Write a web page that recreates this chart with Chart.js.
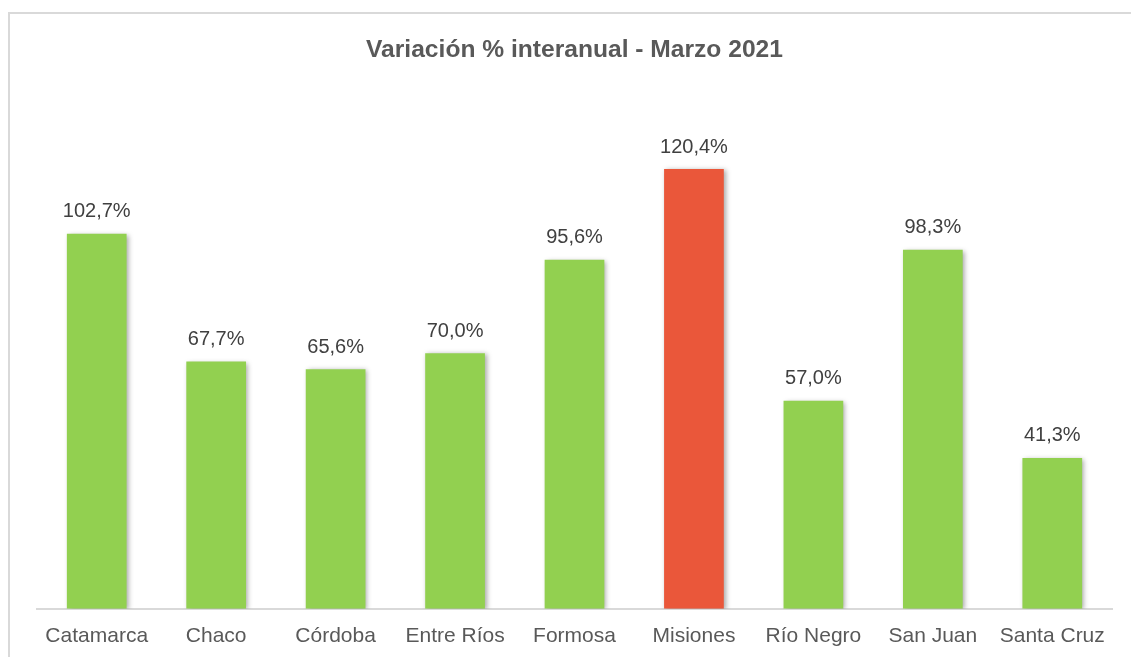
<!DOCTYPE html>
<html>
<head>
<meta charset="utf-8">
<script src="https://cdn.jsdelivr.net/npm/chart.js@4"></script>
<style>
  html, body { margin: 0; padding: 0; background: #fff; }
  body { width: 1131px; height: 657px; position: relative; overflow: hidden; }
  .frame { position: absolute; left: 8px; top: 12px; width: 1140px; height: 660px; border: 2px solid #d9d9d9; box-sizing: border-box; }
  .wrap { position: absolute; left: 0; top: 0; width: 1136px; height: 665px; }
</style>
</head>
<body>
<div class="frame"></div>
<div class="wrap"><canvas id="grafico"></canvas></div>
<script>
const provincias = ['Catamarca', 'Chaco', 'Córdoba', 'Entre Ríos', 'Formosa', 'Misiones', 'Río Negro', 'San Juan', 'Santa Cruz'];
const variacion = [102.7, 67.7, 65.6, 70.0, 95.6, 120.4, 57.0, 98.3, 41.3];
const destacada = 'Misiones';

const verde = '#92D050';
const rojo = '#EA573A';
const colores = provincias.map(p => p === destacada ? rojo : verde);
const fuente = '"Liberation Sans", Arial, sans-serif';

// sombra suave de las barras, como en Excel
const sombra = {
    id: 'sombra',
    beforeDatasetsDraw(chart) {
        const ctx = chart.ctx;
        ctx.save();
        ctx.shadowColor = 'rgba(0,0,0,0.35)';
        ctx.shadowBlur = 5;
        ctx.shadowOffsetX = 2;
        ctx.shadowOffsetY = 1;
    },
    afterDatasetsDraw(chart) {
        chart.ctx.restore();
    }
};

// etiquetas con el valor sobre cada barra
const etiquetas = {
    id: 'etiquetas',
    afterDatasetsDraw(chart) {
        const ctx = chart.ctx;
        const meta = chart.getDatasetMeta(0);
        ctx.save();
        ctx.font = '20px ' + fuente;
        ctx.fillStyle = '#404040';
        ctx.textAlign = 'center';
        ctx.textBaseline = 'bottom';
        meta.data.forEach((bar, i) => {
            const txt = variacion[i].toFixed(1).replace('.', ',') + '%';
            ctx.fillText(txt, bar.x, bar.y - 12);
        });
        ctx.restore();
    }
};

const ctx = document.getElementById('grafico').getContext('2d');
const myChart = new Chart(ctx, {
    type: 'bar',
    data: {
        labels: provincias,
        datasets: [{
            data: variacion,
            backgroundColor: colores,
            borderWidth: 0,
            barPercentage: 0.5,
            categoryPercentage: 1.0
        }]
    },
    options: {
        responsive: true,
        maintainAspectRatio: false,
        animation: false,
        layout: { padding: { left: 37, right: 24, top: 0, bottom: 9 } },
        plugins: {
            legend: { display: false },
            tooltip: { enabled: false },
            title: {
                display: true,
                text: 'Variación % interanual - Marzo 2021',
                color: '#595959',
                font: { family: fuente, size: 24.6, weight: 'bold' },
                padding: { top: 35, bottom: 33 }
            }
        },
        scales: {
            x: {
                grid: { display: false },
                border: { display: true, color: '#d9d9d9', width: 2 },
                ticks: {
                    color: '#595959',
                    font: { family: fuente, size: 21 },
                    padding: 7
                }
            },
            y: {
                display: false,
                min: 0,
                max: 140
            }
        }
    },
    plugins: [sombra, etiquetas]
});
</script>
</body>
</html>
